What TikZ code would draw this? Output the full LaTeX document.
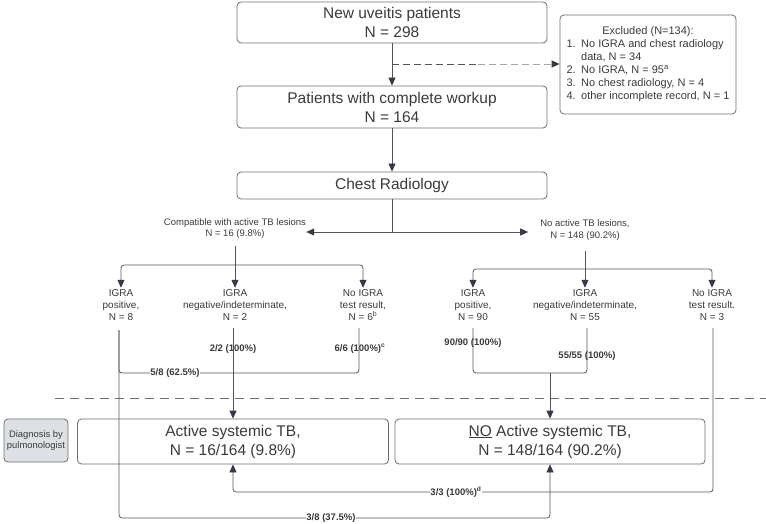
\documentclass[tikz,border=0pt]{standalone}
\usepackage{fontspec}
\setmainfont{Liberation Sans}
\usetikzlibrary{arrows.meta}
\definecolor{txt}{HTML}{3A3A3A}
\definecolor{edge}{HTML}{6E6E6E}
\definecolor{ln}{HTML}{555555}
\definecolor{tip}{HTML}{343A46}
\definecolor{diag}{HTML}{DDE0E5}
\begin{document}
\begin{tikzpicture}[x=1pt,y=-1pt,
  box/.style={draw=edge, line width=0.8pt, rounded corners=4pt, align=center, text=txt,
    font=\fontsize{15.5}{19}\selectfont, inner sep=0pt},
  lbl/.style={align=center, text=txt, font=\fontsize{10}{12}\selectfont, inner sep=1.5pt},
  toplbl/.style={align=center, text=txt, font=\fontsize{9.5}{11.5}\selectfont, inner sep=0pt},
  pct/.style={text=txt, font=\fontsize{9.5}{11}\selectfont\bfseries, inner sep=1pt},
  pctw/.style={pct, fill=white, inner xsep=0.5pt},
  conn/.style={draw=ln, line width=0.8pt, rounded corners=3pt},
  arr/.style={conn, -{Triangle[length=8pt,width=7pt,color=tip,fill=tip]}},
  sep/.style={draw=edge, line width=0.7pt, dash pattern=on 9pt off 6pt},
]
\useasboundingbox (0,0) rectangle (766,524);

% top boxes
\node[box, minimum width=310pt, minimum height=41pt] (new) at (392,22.5) {New uveitis patients\\N = 298};
\node[box, minimum width=310pt, minimum height=42pt] (work) at (392,107) {Patients with complete workup\\N = 164};
\node[box, minimum width=310pt, minimum height=27pt] (chest) at (392,185.5) {Chest Radiology};

\node[draw=edge, line width=0.8pt, rounded corners=4pt, minimum width=176pt, minimum height=99pt,
  text=txt, font=\fontsize{11}{13}\selectfont, inner sep=0pt] (excl) at (648,64.5)
  {\begin{tabular}{@{}l@{\hspace{5.5pt}}l@{}}
   \multicolumn{2}{c}{Excluded (N=134):}\\
   1. & No IGRA and chest radiology\\
      & data, N = 34\\
   2. & No IGRA, N = 95\textsuperscript{a}\\
   3. & No chest radiology, N = 4\\
   4. & other incomplete record, N = 1
   \end{tabular}};

\draw[arr] (new) -- (work);
\draw[arr] (work) -- (chest);
\coordinate (dj) at (392,64);
\coordinate (dm) at (478,64);
\draw[draw=ln, line width=0.8pt, dash pattern=on 7pt off 4pt] (dj) -- (dm);
\draw[draw=gray!70, line width=0.8pt, dash pattern=on 7pt off 4pt,
  -{Triangle[length=8pt,width=7pt,color=tip,fill=tip]}] (dm) -- (dm -| excl.west);

% chest radiology split
\coordinate (cs) at (392,232);
\node[toplbl] (compat) at (235,228.5) {Compatible with active TB lesions\\N = 16 (9.8\%)};
\node[toplbl] (noact) at (585,230) {No active TB lesions,\\N = 148 (90.2\%)};
\coordinate (nat) at ([xshift=-12pt]noact.west);
\draw[conn] (chest.south) -- (cs);
\draw[arr] (cs) -- (cs -| compat.east);
\draw[arr] (cs) -- (cs -| nat);

% left branch
\node[lbl] (ip1) at (121,305) {IGRA\\positive,\\N = 8};
\node[lbl] (in1) at (235,305) {IGRA\\negative/indeterminate,\\N = 2};
\node[lbl] (nn1) at (363,305) {No IGRA\\test result,\\N = 6\textsuperscript{b}};
\coordinate (lb) at (235,265);
\draw[conn] (compat.south) ++(0,7) -- (lb);
\draw[arr] (lb) -| (ip1.north);
\draw[arr] (lb) -- (in1.north);
\draw[arr] (lb) -| (nn1.north);

% right branch
\node[lbl] (ip2) at (473,305) {IGRA\\positive,\\N = 90};
\node[lbl] (in2) at (585,305) {IGRA\\negative/indeterminate,\\N = 55};
\node[lbl] (nn2) at (712,305) {No IGRA\\test result.\\N = 3};
\coordinate (rb) at (585,269);
\draw[conn] (noact.south) ++(0,11) -- (rb);
\draw[arr] (rb) -| (ip2.north);
\draw[arr] (rb) -- (in2.north);
\draw[arr] (rb) -| (nn2.north);

% separator
\coordinate (sepL) at (55,398);
\coordinate (sepR) at (766,398);
\draw[sep] (sepL) -- (sepR);

% bottom boxes
\node[box, minimum width=311pt, minimum height=45pt] (act) at (233,441.5) {Active systemic TB,\\N = 16/164 (9.8\%)};
\node[box, minimum width=310pt, minimum height=45pt] (noat) at (550,441.5) {\underline{NO} Active systemic TB,\\N = 148/164 (90.2\%)};
\node[draw=edge, line width=0.8pt, fill=diag, rounded corners=4pt, minimum width=64pt, minimum height=43pt,
  align=center, text=txt, font=\fontsize{9.4}{11}\selectfont, inner sep=0pt] (diagn) at (36,440.5)
  {Diagnosis by\\pulmonologist};

% left group to diagnosis
\coordinate (lm) at (233,373);
\coordinate (ybot) at (0,518);
\coordinate (y33) at (0,492);
\draw[conn] ([xshift=-2pt]ip1.south) ++(0,8) |- (lm);
\draw[arr] ([xshift=-2pt]ip1.south) ++(0,8) |- (ybot -| noat.south) -- (noat.south);
\draw[arr] ([xshift=-2pt]in1.south) ++(0,6) -- (act.north);
\draw[conn] ([xshift=-4pt]nn1.south) ++(0,6) |- (lm);

% right group to diagnosis
\coordinate (rm) at (550,373);
\draw[conn] (ip2.south) ++(0,6) |- (rm);
\draw[conn] ([xshift=2pt]in2.south) ++(0,6) |- (rm);
\draw[arr] (rm) -- (noat.north);
\draw[arr] ([xshift=1pt]nn2.south) ++(0,6) |- (y33 -| act.south) -- (act.south);

% percentage labels
\node[pctw] (l58) at (175,373) {5/8 (62.5\%)};
\node[pct] (l22) at (233,349) {2/2 (100\%)};
\node[pct] (l66) at (360,349) {6/6 (100\%)\textsuperscript{c}};
\node[pct] (l90) at (473,343) {90/90 (100\%)};
\node[pct] (l55) at (587,356) {55/55 (100\%)};
\node[pctw] (l33) at (456,492) {3/3 (100\%)\textsuperscript{d}};
\node[pctw] (l38) at (331,518) {3/8 (37.5\%)};
\end{tikzpicture}
\end{document}
